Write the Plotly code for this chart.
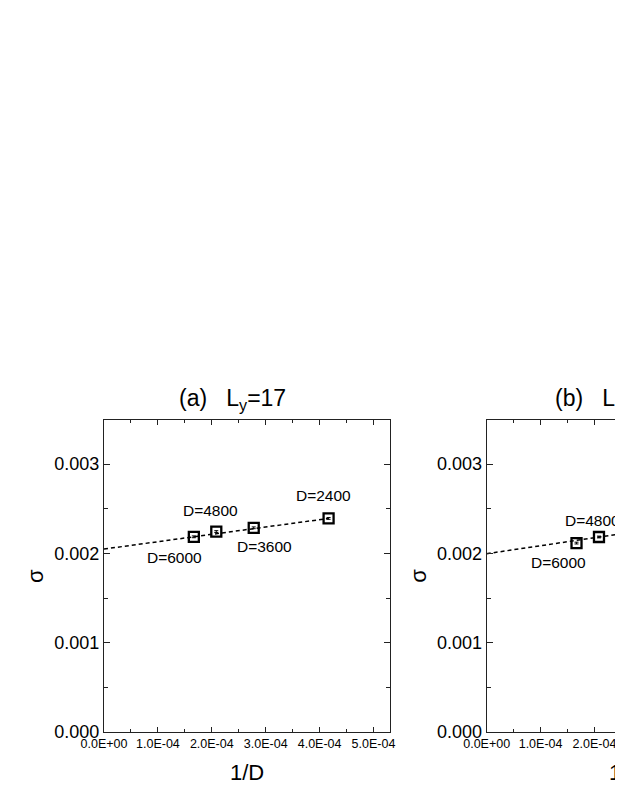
import plotly.graph_objects as go

# panel (a), Ly=17
d_a = [6000, 4800, 3600, 2400]
inv_d_a = [1 / d for d in d_a]
sigma_a = [0.002186, 0.002245, 0.002287, 0.002392]
err_a = [0.00001, 0.00001, 0.00001, 0.00001]
fit_x_a = [0.0, 1 / 2400]
fit_y_a = [0.002049, 0.002392]

# panel (b), only the left part is in the picture
d_b = [6000, 4800]
inv_d_b = [1 / d for d in d_b]
sigma_b = [0.002116, 0.002184]
err_b = [0.00001, 0.00001]
fit_x_b = [0.0, 1 / 2400]
fit_y_b = [0.001997, 0.00237]

x_tickvals = [0, 1e-4, 2e-4, 3e-4, 4e-4, 5e-4]
x_ticktext = ["0.0E+00", "1.0E-04", "2.0E-04", "3.0E-04", "4.0E-04", "5.0E-04"]
y_tickvals = [0, 0.001, 0.002, 0.003]
y_ticktext = ["0.000", "0.001", "0.002", "0.003"]

# label offsets in px (dx, dy) next to each point
label_off_a = {6000: (-19, 21), 4800: (-6, -21), 3600: (11, 19), 2400: (-5, -23)}
label_off_b = {6000: (-18, 19), 4800: (-6, -17)}

# the page body has an 8px margin, so the figure starts at (8, 8)
OFF = 8
W, H = 623 - OFF, 806 - OFF
FONT = "Arial, Liberation Sans, sans-serif"
INK = "#222222"


def px(v):
    return (v - OFF) / W


def py(v):
    return 1 - (v - OFF) / H


# plot boxes in screen pixels
ax_left, ax_right = 104, 390
bx_left = 486.7
top, bottom = 419.5, 732

fig = go.Figure()

for xs, ys, errs, fx, fy, xa, ya in [
    (inv_d_a, sigma_a, err_a, fit_x_a, fit_y_a, "x", "y"),
    (inv_d_b, sigma_b, err_b, fit_x_b, fit_y_b, "x2", "y2"),
]:
    fig.add_trace(go.Scatter(
        x=fx, y=fy, mode="lines", xaxis=xa, yaxis=ya,
        line=dict(color="black", width=1.5, dash="4px,3px"),
        hoverinfo="skip",
    ))
    fig.add_trace(go.Scatter(
        x=xs, y=ys, mode="markers", xaxis=xa, yaxis=ya,
        marker=dict(symbol="square-open", size=10, color="black",
                    line=dict(width=2.3, color="black")),
        error_y=dict(type="data", array=errs, color="black", thickness=1, width=2),
    ))

common_x = dict(
    showline=True, linecolor=INK, linewidth=1.3, ticks="inside", ticklen=5,
    tickwidth=1.2, tickcolor=INK, showgrid=False, zeroline=False,
    tickvals=x_tickvals, ticktext=x_ticktext, automargin=False,
    tickfont=dict(family=FONT, size=12.5, color="black"),
    minor=dict(dtick=5e-5, ticks="inside", ticklen=3, tickcolor=INK, showgrid=False),
    mirror="ticks",
)
common_y = dict(
    showline=True, linecolor=INK, linewidth=1.3, ticks="inside", ticklen=6,
    tickwidth=1.2, tickcolor=INK, showgrid=False, zeroline=False,
    tickvals=y_tickvals, ticktext=y_ticktext, range=[0, 0.0035], automargin=False,
    tickfont=dict(family=FONT, size=18, color="black"),
    minor=dict(dtick=0.0005, ticks="inside", ticklen=4, tickcolor=INK, showgrid=False),
)

ydom = [py(bottom), py(top)]
fig.update_layout(
    xaxis=dict(common_x, domain=[px(ax_left), px(ax_right)], range=[0, 5.306e-4], anchor="y"),
    yaxis=dict(common_y, domain=ydom, anchor="x", mirror="ticks"),
    xaxis2=dict(common_x, domain=[px(bx_left), 1.0], range=[0, 2.529e-4], anchor="y2"),
    yaxis2=dict(common_y, domain=ydom, anchor="x2", mirror=False),
    width=W, height=H,
    margin=dict(l=0, r=0, t=0, b=0),
    plot_bgcolor="white", paper_bgcolor="white",
    showlegend=False,
    font=dict(family=FONT, color="black"),
)

# D=... labels beside the points
for ds, xs, ys, offs, xa, ya in [
    (d_a, inv_d_a, sigma_a, label_off_a, "x", "y"),
    (d_b, inv_d_b, sigma_b, label_off_b, "x2", "y2"),
]:
    for d, x, y in zip(ds, xs, ys):
        dx, dy = offs[d]
        fig.add_annotation(x=x, y=y, xref=xa, yref=ya, text=f"D={d}",
                           showarrow=False, xshift=dx, yshift=-dy,
                           font=dict(family=FONT, size=15.5, color="black"))

# panel titles and axis titles (panel b runs off the right edge)
for left, title, t_dx, x_dx in [
    (ax_left, "(a)&nbsp;&nbsp;&nbsp;L<sub>y</sub>=17", 128, 143),
    (bx_left, "(b)&nbsp;&nbsp;&nbsp;L<sub>y</sub>=21", 122, 139),
]:
    fig.add_annotation(x=px(left + t_dx), y=py(399), xref="paper", yref="paper",
                       text=title, showarrow=False, xanchor="center", yanchor="middle",
                       font=dict(family=FONT, size=23, color="black"))
    fig.add_annotation(x=px(left + x_dx), y=py(772), xref="paper", yref="paper",
                       text="1/D", showarrow=False, xanchor="center", yanchor="middle",
                       font=dict(family=FONT, size=22, color="black"))
    fig.add_annotation(x=px(left - 69), y=py(576), xref="paper", yref="paper",
                       text="σ", showarrow=False, textangle=-90,
                       xanchor="center", yanchor="middle",
                       font=dict(family=FONT, size=22, color="black"))

fig.write_html("out.html")
